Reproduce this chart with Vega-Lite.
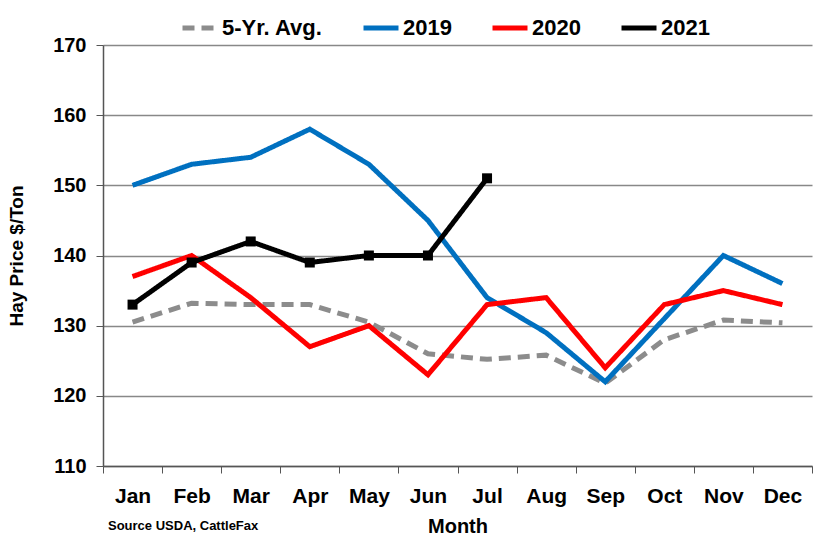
{
  "$schema": "https://vega.github.io/schema/vega-lite/v6.json",
  "autosize": {"type": "none"},
  "width": 709,
  "height": 421,
  "padding": {"left": 103, "top": 45, "right": 2, "bottom": 70},
  "background": "white",
  "config": {
    "view": {"stroke": null},
    "font": "Liberation Sans"
  },
  "title": {
    "text": "Source USDA, CattleFax",
    "orient": "bottom",
    "anchor": "start",
    "frame": "group",
    "fontSize": 13,
    "fontWeight": "bold",
    "color": "black",
    "offset": -16,
    "dx": 5
  },
  "data": {
    "values": [
      {"month": "Jan", "series": "5-Yr. Avg.", "price": 130.5},
      {"month": "Feb", "series": "5-Yr. Avg.", "price": 133.2},
      {"month": "Mar", "series": "5-Yr. Avg.", "price": 133},
      {"month": "Apr", "series": "5-Yr. Avg.", "price": 133},
      {"month": "May", "series": "5-Yr. Avg.", "price": 130.5},
      {"month": "Jun", "series": "5-Yr. Avg.", "price": 126},
      {"month": "Jul", "series": "5-Yr. Avg.", "price": 125.2},
      {"month": "Aug", "series": "5-Yr. Avg.", "price": 125.8},
      {"month": "Sep", "series": "5-Yr. Avg.", "price": 121.8},
      {"month": "Oct", "series": "5-Yr. Avg.", "price": 128},
      {"month": "Nov", "series": "5-Yr. Avg.", "price": 130.8},
      {"month": "Dec", "series": "5-Yr. Avg.", "price": 130.4},
      {"month": "Jan", "series": "2019", "price": 150},
      {"month": "Feb", "series": "2019", "price": 153},
      {"month": "Mar", "series": "2019", "price": 154},
      {"month": "Apr", "series": "2019", "price": 158},
      {"month": "May", "series": "2019", "price": 153},
      {"month": "Jun", "series": "2019", "price": 145},
      {"month": "Jul", "series": "2019", "price": 134},
      {"month": "Aug", "series": "2019", "price": 129},
      {"month": "Sep", "series": "2019", "price": 122},
      {"month": "Oct", "series": "2019", "price": 131},
      {"month": "Nov", "series": "2019", "price": 140},
      {"month": "Dec", "series": "2019", "price": 136},
      {"month": "Jan", "series": "2020", "price": 137},
      {"month": "Feb", "series": "2020", "price": 140},
      {"month": "Mar", "series": "2020", "price": 134},
      {"month": "Apr", "series": "2020", "price": 127},
      {"month": "May", "series": "2020", "price": 130},
      {"month": "Jun", "series": "2020", "price": 123},
      {"month": "Jul", "series": "2020", "price": 133},
      {"month": "Aug", "series": "2020", "price": 134},
      {"month": "Sep", "series": "2020", "price": 124},
      {"month": "Oct", "series": "2020", "price": 133},
      {"month": "Nov", "series": "2020", "price": 135},
      {"month": "Dec", "series": "2020", "price": 133},
      {"month": "Jan", "series": "2021", "price": 133},
      {"month": "Feb", "series": "2021", "price": 139},
      {"month": "Mar", "series": "2021", "price": 142},
      {"month": "Apr", "series": "2021", "price": 139},
      {"month": "May", "series": "2021", "price": 140},
      {"month": "Jun", "series": "2021", "price": 140},
      {"month": "Jul", "series": "2021", "price": 151}
    ]
  },
  "encoding": {
    "x": {
      "field": "month",
      "type": "ordinal",
      "sort": ["Jan","Feb","Mar","Apr","May","Jun","Jul","Aug","Sep","Oct","Nov","Dec"],
      "scale": {"type": "band", "paddingInner": 0, "paddingOuter": 0},
      "axis": {
        "title": "Month",
        "titleFontSize": 20,
        "titleFontWeight": "bold",
        "titleColor": "black",
        "titlePadding": 10,
        "labelFontSize": 21,
        "labelFontWeight": "bold",
        "labelColor": "black",
        "labelAngle": 0,
        "labelPadding": 12,
        "tickBand": "extent",
        "tickSize": 7,
        "tickColor": "#555",
        "domainColor": "#555",
        "domainWidth": 1.5,
        "grid": false
      }
    },
    "y": {
      "field": "price",
      "type": "quantitative",
      "scale": {"domain": [110, 170], "nice": false, "zero": false},
      "axis": {
        "title": "Hay Price $/Ton",
        "titleFontSize": 19,
        "titleFontWeight": "bold",
        "titleColor": "black",
        "titlePadding": 26,
        "values": [110,120,130,140,150,160,170],
        "labelFontSize": 20,
        "labelFontWeight": "bold",
        "labelColor": "black",
        "labelPadding": 10,
        "tickSize": 7,
        "tickColor": "#555",
        "domainColor": "#555",
        "domainWidth": 1.5,
        "grid": true,
        "gridColor": "#888",
        "gridWidth": 1.5
      }
    }
  },
  "layer": [
    {
      "mark": {"type": "line", "strokeWidth": 5},
      "encoding": {
        "color": {
          "field": "series",
          "type": "nominal",
          "scale": {
            "domain": ["5-Yr. Avg.", "2019", "2020", "2021"],
            "range": ["#8c8c8c", "#0070C0", "#FF0000", "#000000"]
          },
          "legend": {
            "title": null,
            "orient": "none",
            "direction": "horizontal",
            "legendX": 77,
            "legendY": -37,
            "symbolType": "stroke",
            "symbolSize": 1225,
            "symbolStrokeWidth": 5,
            "labelFontSize": 22,
            "labelFontWeight": "bold",
            "labelColor": "black",
            "labelOffset": 2,
            "columnPadding": 30
          }
        },
        "strokeDash": {
          "field": "series",
          "type": "nominal",
          "scale": {
            "domain": ["5-Yr. Avg.", "2019", "2020", "2021"],
            "range": [[12, 7], [1, 0], [1, 0], [1, 0]]
          },
          "legend": {
            "title": null,
            "orient": "none",
            "direction": "horizontal",
            "legendX": 77,
            "legendY": -37,
            "symbolType": "stroke",
            "symbolSize": 1225,
            "symbolStrokeWidth": 5,
            "labelFontSize": 22,
            "labelFontWeight": "bold",
            "labelColor": "black",
            "labelOffset": 2,
            "columnPadding": 30
          }
        },
        "order": {"field": "series", "sort": "ascending"}
      }
    },
    {
      "transform": [{"filter": "datum.series === '2021'"}],
      "mark": {"type": "point", "shape": "square", "filled": true, "size": 100, "color": "black", "opacity": 1}
    }
  ]
}
